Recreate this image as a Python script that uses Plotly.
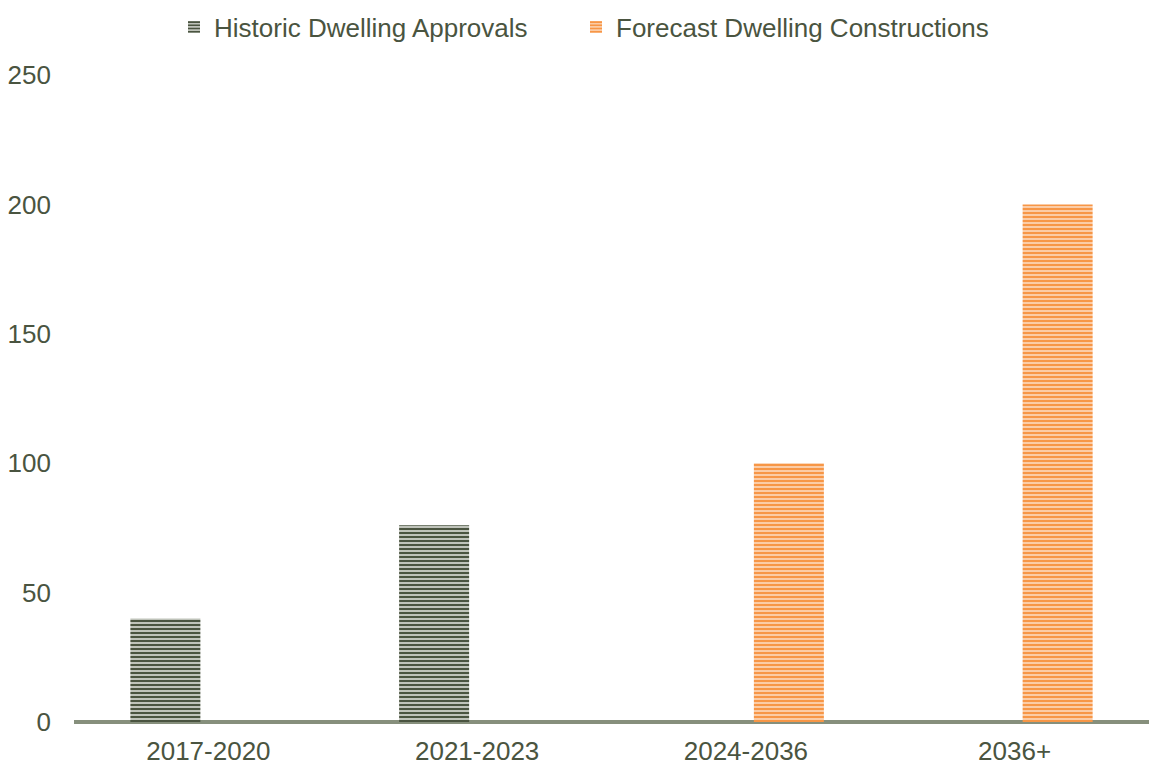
import plotly.graph_objects as go

categories = ["2017-2020", "2021-2023", "2024-2036", "2036+"]
historic = [40, 76, None, None]
forecast = [None, None, 100, 200]
y_ticks = [0, 50, 100, 150, 200, 250]

TEXT = "#4a5440"
GREEN = "#4a5440"
ORANGE = "#f79646"
FONT = "Liberation Sans, Arial, sans-serif"
FS = 26

fig = go.Figure()
fig.add_trace(go.Bar(
    x=categories, y=historic, name="Historic Dwelling Approvals", legend="legend",
    marker=dict(color="#f1f2ee", line=dict(width=0),
                pattern=dict(shape="-", fgcolor=GREEN, bgcolor="#f1f2ee",
                             fgopacity=1, size=4, solidity=0.65)),
))
fig.add_trace(go.Bar(
    x=categories, y=forecast, name="Forecast Dwelling Constructions", legend="legend2",
    marker=dict(color="#fde3cf", line=dict(width=0),
                pattern=dict(shape="-", fgcolor=ORANGE, bgcolor="#fde3cf",
                             fgopacity=1, size=4, solidity=0.65)),
))

legend_common = dict(orientation="h", xanchor="left", xref="container",
                     y=1 - 27 / 766, yanchor="middle", yref="container",
                     font=dict(family=FONT, size=FS, color=TEXT),
                     itemwidth=30, bgcolor="rgba(0,0,0,0)")

fig.update_layout(
    width=1149, height=766,
    margin=dict(l=74, r=0, t=75, b=44),
    paper_bgcolor="white", plot_bgcolor="white",
    barmode="group", bargap=0.36, bargroupgap=0.186,
    font=dict(family=FONT, size=FS, color=TEXT),
    showlegend=True,
    legend=dict(x=174 / 1149, **legend_common),
    legend2=dict(x=576 / 1149, **legend_common),
    xaxis=dict(showgrid=False, showline=False, ticks="", zeroline=False,
               automargin=False, ticklabelstandoff=11,
               tickfont=dict(family=FONT, size=FS, color=TEXT)),
    yaxis=dict(range=[0, 250], tickvals=y_ticks, showgrid=False, showline=False,
               zeroline=True, zerolinecolor="#868f7c", zerolinewidth=3.5,
               ticks="", ticklabelstandoff=22, automargin=False,
               tickfont=dict(family=FONT, size=FS, color=TEXT)),
)

fig.write_html("out.html", config={"displayModeBar": False})

# remove the browser's default 8px body margin so the figure fills the window
with open("out.html", "r", encoding="utf-8") as f:
    html = f.read()
html = html.replace("<body>", '<body style="margin:0;padding:0;">', 1)
with open("out.html", "w", encoding="utf-8") as f:
    f.write(html)
